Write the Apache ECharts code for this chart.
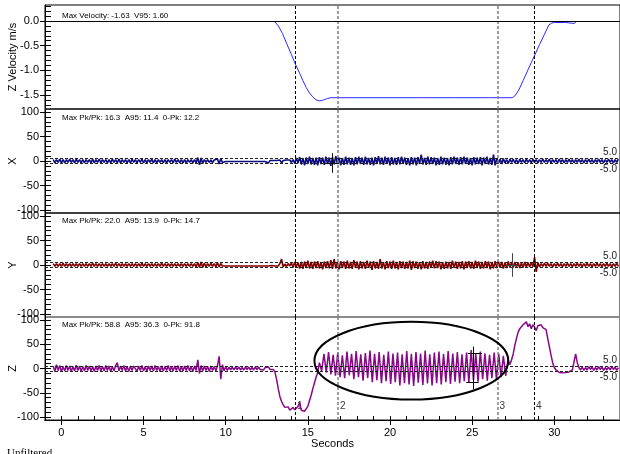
<!DOCTYPE html>
<html><head><meta charset="utf-8">
<script src="https://cdn.jsdelivr.net/npm/echarts@6/dist/echarts.min.js"></script>
<style>html,body{margin:0;padding:0;background:#fff}#c{width:620px;height:454px}</style>
</head><body><div id="c"></div>
<script>
// ---------- DATA ----------
const panelTitles = [
  'Max Velocity: -1.63  V95: 1.60',
  'Max Pk/Pk: 16.3  A95: 11.4  0-Pk: 12.2',
  'Max Pk/Pk: 22.0  A95: 13.9  0-Pk: 14.7',
  'Max Pk/Pk: 58.8  A95: 36.3  0-Pk: 91.8'
];
const axisNames = ['Z Velocity m/s', 'X', 'Y', 'Z'];
const xTickLabels = [0, 5, 10, 15, 20, 25, 30];
const velTickLabels = [0, -0.5, -1, -1.5];
const velMinorTicks = [0.3,0.2,0.1,0,-0.1,-0.2,-0.3,-0.4,-0.5,-0.6,-0.7,-0.8,-0.9,-1.0,-1.1,-1.2,-1.3,-1.4,-1.5,-1.6,-1.7];
const accTickLabels = [-100, -50, 0, 50, 100];
const accMinorTicks = [-100,-90,-80,-70,-60,-50,-40,-30,-20,-10,0,10,20,30,40,50,60,70,80,90,100];
const limitLines = [5, -5];
const eventTimes = [14.22, 16.84, 26.55, 28.77];
const eventLabels = ['1', '2', '3', '4'];

// velocity (seconds, m/s)
const velT = [12.95,13.2,13.45,13.7,14.0,14.22,14.5,14.7,14.9,15.1,15.3,15.5,15.7,15.9,16.2,16.4,18,20,22,24,26,27.2,27.44,27.6,27.84,28.1,28.4,28.77,29.1,29.4,29.67,29.85,30.0,30.7,30.8,31.2,31.35];
const velV = [0,-0.1,-0.25,-0.45,-0.68,-0.86,-1.06,-1.21,-1.35,-1.46,-1.54,-1.6,-1.62,-1.61,-1.57,-1.556,-1.556,-1.556,-1.556,-1.556,-1.556,-1.556,-1.556,-1.52,-1.40,-1.21,-0.99,-0.72,-0.48,-0.27,-0.08,-0.04,-0.03,-0.03,-0.05,-0.05,-0.01];

// acceleration samples start at -0.5 s, every 0.1 s
const accT0 = -0.5, accDT = 0.1;
const xVals = [
3,-4,3,-3,4,-4,3,-4,3,-3, 4,-3,3,-4,4,-3,3,-4,3,-4, 3,-3,3,-4,4,-4,3,-3,4,-4, 3,-3,3,-4,3,-4,4,-3,3,-4,
4,-4,3,-3,3,-4,3,-4,4,-3, 3,-4,3,-3,4,-4,3,-4,3,-3, 4,-4,3,-4,3,-3,3,-4,3,-4, 3,-3,3,-4,4,-3,3,-4,3,-4,
3,-4,3,-3,3,-4,3,-4,7,-8, 6,-5,3,-3,3,-3,2,-3,2,-2, 4,-6,5,-3,1,-1,1,-1,1,-1, 1,-1,1,-1,1,-1,1,-1,1,-1,
1,-1,1,-1,1,-1,1,-1,1,-1, 1,-4,1,-1,1,-1,1,-1,2,-4, 1,-1,2,-1,2,-3,3,-5,6,-4, 8,-7,6,-9,7,-6,9,-7,6,-8,
7,-9,8,-6,7,-8,9,-6,7,-10, 8,-7,10,-6,7,-9,6,-8,9,-7, 7,-8,6,-9,8,-7,9,-6,7,-8, 9,-7,6,-8,7,-9,8,-6,10,-7,
7,-8,9,-6,7,-9,8,-7,6,-8, 8,-7,9,-6,7,-8,6,-9,8,-7, 7,-9,8,-6,13,-7,6,-8,9,-7, 8,-6,7,-9,6,-8,9,-7,7,-8,
6,-9,8,-7,9,-6,7,-8,8,-7, 9,-6,7,-8,6,-9,8,-7,7,-6, 8,-9,7,-6,9,-7,6,-8,13,-9, 6,-5,4,-6,5,-4,3,-5,4,-3,
4,-4,3,-5,4,-3,3,-4,4,-3, 3,-4,4,-3,3,-4,3,-3,4,-3, 3,-3,4,-4,3,-3,3,-4,4,-3, 3,-4,3,-3,4,-3,3,-4,3,-3,
4,-3,3,-4,3,-3,4,-3,3,-4, 3,-3,4,-3,3,-4,3,-3,4,-3, 3,-4,3,-3,4
];
const yVals = [
3,-3,3,-3,3,-3,4,-3,3,-3, 3,-3,3,-3,3,-3,3,-3,3,-3, 3,-3,3,-3,4,-3,3,-3,3,-3, 3,-3,3,-3,3,-3,3,-3,4,-3,
3,-3,3,-3,3,-3,3,-3,3,-3, 3,-3,3,-3,4,-3,3,-3,3,-3, 3,-3,3,-3,3,-3,4,-3,3,-3, 3,-3,3,-3,3,-3,3,-3,3,-3,
3,-3,3,-3,3,-3,3,-4,5,-5, 6,-5,4,-4,3,-3,4,-3,3,-4, 5,-4,3,-2,2,-2,2,-2,2,-2, 2,-2,2,-2,2,-2,2,-2,2,-2,
2,-2,2,-2,2,-2,2,-2,2,-2, 2,-2,2,-1,2,-2,1,-2,3,12, -4,2,-3,3,-2,4,-5,6,-4,5, -7,6,-8,7,-6,9,-7,6,-8,7,
-6,8,-7,6,-9,7,-6,8,-7,10, -8,12,-7,6,-9,8,-6,7,-8,9, -7,6,-8,10,-6,7,-9,8,-7,6, -8,9,-6,7,-10,8,-7,6,-8,12,
-7,6,-9,8,-6,7,-8,9,-7,6, -9,8,-6,7,-8,6,-7,9,-10,8, -6,7,-8,6,-9,8,-7,6,-8,7, -6,9,-7,8,-6,7,-9,6,-8,7,
-7,6,-8,9,-6,7,-8,6,-7,8, -9,7,-6,8,-7,6,-8,9,-6,7, -8,6,-7,8,-6,7,-9,6,-7,8, -6,7,-5,6,-7,5,-6,7,-5,6,
-5,6,-4,5,-6,4,-5,6,-4,5, -4,5,-4,16,-14,5,-4,3,-3,4, -3,4,-3,3,-4,3,-3,4,-3,3, -4,3,-3,4,-3,3,-4,3,-3,4,
-3,3,-4,3,-3,4,-3,3,-4,3, -3,4,-3,3,-4,3,-3,4,-3,3, -4,3,-3,4,-3
];
// Z: before the oscillation (from -0.5 s, every 0.1 s)
const zPre = [
5,-6,8,-4,6,-7,4,-5,6,-4, 5,-6,4,-5,7,-4,5,-6,4,-5, 6,-4,5,-5,4,-6,5,-4,6,-5, 4,-5,6,-4,5,-6,4,-5,6,12,
-5,5,-4,6,-5,4,-6,5,-4,5, 9,-6,5,-4,6,-5,4,-6,5,-4, 5,-5,6,-4,4,-6,5,-5,4,-4, 6,-5,4,-5,5,-4,6,-6,4,-5,
5,-4,6,-5,4,-6,5,-4,18,-10, 6,-5,5,-4,4,-6,5,-4,4,-5, 6,25,-22,8,-5,4,-4,3,-3,3, -3,3,-2,3,-3,2,-3,3,-2,3,
-3,2,-3,3,-2,3,-2,2,-3,2, -2,3,-2,2,-2,-8,-23,-42,-58,-68, -75,-80,-84,-79,-86,-82,-80,-85,-81,-78,
-70,-86,-82,-88,-83,-78,-66,-55,-42,-30, -18,-8
];
// Z: oscillation (from 15.7 s, every 0.14 s)
const zOscT0 = 15.7, zOscDT = 0.14;
const zOsc = [
12,-5,30,-8,34,-12,28,-15,33,-18, 27,-20,35,-14,30,-22,36,-18,29,-25,
32,-20,37,-28,30,-24,34,-30,28,-26, 35,-32,31,-28,33,-35,29,-30,36,-33,
30,-36,34,-29,31,-34,37,-31,29,-35, 33,-30,35,-33,30,-28,36,-32,31,-27,
34,-30,29,-26,33,-29,38,-24,30,-27, 35,-22,31,-25,28,-20,33,-23,30,-18,
26,-15,18
];
// Z: after the oscillation (from 27.3 s, every 0.1 s)
const zPostT0 = 27.3;
const zPost = [
8,18,30,48,62,75,82,78,90,94, 96,86,92,82,90,85,78,88,84,90,
84,88,80,62,45,28,12,2,-3,-6, -8,-6,-9,-7,-8,-5,-7,-4,-3,0,
30,12,2,-3,3,-4,2,-3,4,-2, 3,-4,2,-3,4,-2,3,-4,2,-3, 3,-3,4,-2,3,-4,2
];
// annotations (data coordinates)
const ellipseCenter = [21.3, 16];
const ellipseRadii = [5.9, 80];
const xCursor = [16.47, -4];
const yCursor = [27.44, 0];
const zCursorT = 25.04, zCursorTop = 31, zCursorBottom = -29;

// ---------- BUILD ----------
const FONT = '"Liberation Sans", Arial, sans-serif';
const velData = velT.map((t, i) => [t, velV[i]]);
const grid = (v, i) => [+(accT0 + i * accDT).toFixed(2), v];
const xData = xVals.map(grid);
const yData = yVals.map(grid);
const zData = zPre.map(grid)
  .concat(zOsc.map((v, i) => [+(zOscT0 + i * zOscDT).toFixed(3), v]))
  .concat(zPost.map((v, i) => [+(zPostT0 + i * accDT).toFixed(2), v]));

const tops = [5, 109, 213, 317], heights = [104, 104, 104, 103];
const grids = tops.map((t, i) => ({
  left: 45, right: 0, top: t, height: heights[i], show: true,
  containLabel: false, outerBoundsMode: 'none',
  borderColor: i === 3 ? '#8a8a8a' : '#000', borderWidth: i === 3 ? 2 : 1
}));

const xAxes = [0, 1, 2, 3].map(i => ({
  type: 'value', gridIndex: i, min: -1, max: 34, position: 'bottom',
  axisLine: { show: i === 3, onZero: false, lineStyle: { color: '#000' } },
  axisTick: i === 3 ? { show: true, customValues: xTickLabels, inside: false, length: 5, lineStyle: { color: '#000' } } : { show: false },
  axisLabel: i === 3 ? { show: true, customValues: xTickLabels, color: '#000', fontSize: 11, fontFamily: FONT, margin: 7 } : { show: false },
  splitLine: { show: false },
  name: i === 3 ? 'Seconds' : '', nameLocation: 'middle', nameGap: 18, nameMoveOverlap: false,
  nameTextStyle: { color: '#000', fontSize: 11, fontFamily: FONT }
}));
xAxes.push({
  type: 'value', gridIndex: 3, min: -1, max: 34, interval: 1, position: 'bottom',
  axisLine: { show: false, onZero: false }, axisTick: { show: true, inside: true, length: 4, lineStyle: { color: '#000' } },
  axisLabel: { show: false }, splitLine: { show: false }
});

const yMain = [0, 1, 2, 3].map(i => ({
  type: 'value', gridIndex: i, position: 'left',
  min: i === 0 ? -1.785 : -106, max: i === 0 ? 0.325 : 106,
  axisLine: { show: true, onZero: false, lineStyle: { color: '#000' } },
  axisTick: { show: true, inside: false, length: 5, customValues: i === 0 ? velTickLabels : accTickLabels, lineStyle: { color: '#000' } },
  axisLabel: { show: true, customValues: i === 0 ? velTickLabels : accTickLabels, color: '#000', fontSize: 11, fontFamily: FONT, margin: 6,
    formatter: v => i === 0 ? Number(v).toFixed(1) : String(v) },
  splitLine: { show: false },
  name: axisNames[i], nameLocation: 'middle', nameRotate: 90, nameGap: 27, nameMoveOverlap: false,
  nameTextStyle: { color: '#000', fontSize: 11, fontFamily: FONT }
}));
const yMinor = [0, 1, 2, 3].map(i => ({
  type: 'value', gridIndex: i, position: 'left',
  min: i === 0 ? -1.785 : -106, max: i === 0 ? 0.325 : 106,
  axisLine: { show: false, onZero: false },
  axisTick: { show: true, inside: true, length: 6, customValues: i === 0 ? velMinorTicks : accMinorTicks, lineStyle: { color: '#000' } },
  axisLabel: { show: false }, splitLine: { show: false }
}));

const dash = [3, 2];
const vLines = () => eventTimes.map((t, i) => ({
  xAxis: t, label: { show: false },
  lineStyle: { color: (i === 1 || i === 2) ? '#808080' : '#000', type: dash, width: (i === 1 || i === 2) ? 1.5 : 1 }
}));
const limits = () => limitLines.map(v => ({
  yAxis: v,
  lineStyle: { color: '#222', type: dash, width: 1 },
  label: { show: true, position: v > 0 ? 'insideEndTop' : 'insideEndBottom', formatter: v.toFixed(1),
    color: '#222', fontSize: 10, fontFamily: FONT, distance: [3, 1] }
}));
const seg = (a, b, color) => [
  { coord: a, lineStyle: { color, type: 'solid', width: 1 }, label: { show: false } },
  { coord: b }
];
const cross = (c, dt, dv, color) => [
  seg([c[0] - dt, c[1]], [c[0] + dt, c[1]], color),
  seg([c[0], c[1] - dv], [c[0], c[1] + dv], color)
];
const ml = data => ({ symbol: 'none', silent: true, animation: false, data });

const lineBase = { type: 'line', showSymbol: false, symbol: 'none', animation: false, sampling: null };

const option = {
  animation: false,
  backgroundColor: '#fff',
  grid: grids,
  xAxis: xAxes,
  yAxis: yMain.concat(yMinor),
  series: [
    Object.assign({}, lineBase, { name: 'vel', xAxisIndex: 0, yAxisIndex: 0, data: velData,
      lineStyle: { color: '#2a2aff', width: 1 }, z: 3,
      markLine: ml(vLines().concat([{ yAxis: 0, label: { show: false }, lineStyle: { color: '#000', type: 'solid', width: 1 } }])) }),
    Object.assign({}, lineBase, { name: 'X', xAxisIndex: 1, yAxisIndex: 1, data: xData,
      lineStyle: { color: '#0c0c80', width: 1.6 },
      markLine: ml(vLines().concat(limits(), cross(xCursor, 0.43, 20, '#111'))) }),
    Object.assign({}, lineBase, { name: 'Y', xAxisIndex: 2, yAxisIndex: 2, data: yData,
      lineStyle: { color: '#800000', width: 1.6 },
      markLine: ml(vLines().concat(limits(), cross(yCursor, 0.43, 24, '#444'))) }),
    Object.assign({}, lineBase, { name: 'Z', xAxisIndex: 3, yAxisIndex: 3, data: zData,
      lineStyle: { color: '#880888', width: 1.5 },
      markLine: ml(vLines().concat(limits(), [
        seg([zCursorT, zCursorBottom - 14], [zCursorT, zCursorTop + 14], '#000'),
        seg([zCursorT - 0.3, zCursorTop], [zCursorT + 0.55, zCursorTop], '#000'),
        seg([zCursorT - 0.4, zCursorBottom], [zCursorT + 0.35, zCursorBottom], '#000')
      ])) }),
    { type: 'scatter', xAxisIndex: 3, yAxisIndex: 3, symbolSize: 0, silent: true, animation: false,
      data: eventTimes.map((t, i) => ({ value: [t, -77], name: eventLabels[i] })),
      label: { show: true, position: 'right', distance: 2, formatter: p => p.name, color: '#000', fontSize: 10, fontFamily: FONT } }
  ]
};

const chart = echarts.init(document.getElementById('c'), null, { renderer: 'canvas' });
chart.setOption(option);

const c = chart.convertToPixel({ seriesIndex: 3 }, ellipseCenter);
const ex = chart.convertToPixel({ seriesIndex: 3 }, [ellipseCenter[0] + ellipseRadii[0], ellipseCenter[1]]);
const ey = chart.convertToPixel({ seriesIndex: 3 }, [ellipseCenter[0], ellipseCenter[1] + ellipseRadii[1]]);
const titleTops = [12, 114, 217, 321];
chart.setOption({
  graphic: panelTitles.map((t, i) => ({
    type: 'text', left: 62, top: titleTops[i], z: 50,
    style: { text: t, font: '8px ' + FONT, fill: '#000' }
  })).concat([
    { type: 'ellipse', z: 60, silent: true,
      shape: { cx: c[0], cy: c[1], rx: ex[0] - c[0], ry: c[1] - ey[1] },
      style: { fill: null, stroke: '#000', lineWidth: 2 } },
    { type: 'text', left: 7, top: 448, z: 50,
      style: { text: 'Unfiltered', font: '11px "Liberation Serif", serif', fill: '#000' } }
  ])
});
</script>
</body></html>
